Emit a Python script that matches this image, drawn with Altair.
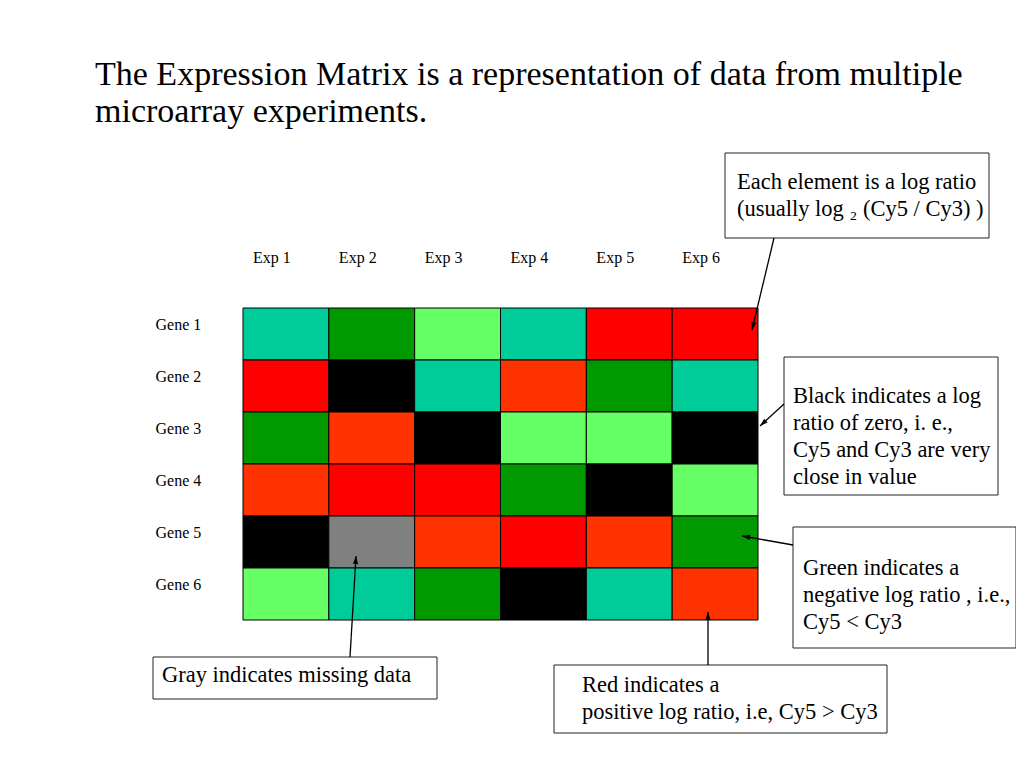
import math
import altair as alt
import pandas as pd

# ---------------- data ----------------
genes = ["Gene 1", "Gene 2", "Gene 3", "Gene 4", "Gene 5", "Gene 6"]
experiments = ["Exp 1", "Exp 2", "Exp 3", "Exp 4", "Exp 5", "Exp 6"]

# colour class of each cell, one row per gene
row_gene1 = ["teal", "dark green", "light green", "teal", "red", "red"]
row_gene2 = ["red", "black", "teal", "orange red", "dark green", "teal"]
row_gene3 = ["dark green", "orange red", "black", "light green", "light green", "black"]
row_gene4 = ["orange red", "red", "red", "dark green", "black", "light green"]
row_gene5 = ["black", "gray", "orange red", "red", "orange red", "dark green"]
row_gene6 = ["light green", "teal", "dark green", "black", "teal", "orange red"]
cell_rows = [row_gene1, row_gene2, row_gene3, row_gene4, row_gene5, row_gene6]

class_names = ["teal", "dark green", "light green", "red", "orange red", "black", "gray"]
class_colors = ["#00CC99", "#009900", "#66FF66", "#FF0000", "#FF3300", "#000000", "#808080"]

title_text = ("The Expression Matrix is a representation of data from multiple\n"
              "microarray experiments.")

note_texts = [
    "Each element is a log ratio\n(usually log \u2082 (Cy5 / Cy3) )",
    "Black indicates a log\nratio of zero, i. e.,\nCy5 and Cy3 are very\nclose in value",
    "Green indicates a\nnegative log ratio , i.e.,\nCy5 < Cy3",
    "Gray indicates missing data",
    "Red indicates a\npositive log ratio, i.e, Cy5 > Cy3",
]

# ---------------- layout (page pixels) ----------------
OX, OY = 243, 308          # top-left of the matrix on the page
PW, PH = 515, 312          # matrix size
TOTAL_W, TOTAL_H = 1008, 752
FONT = "Liberation Serif"

title_pos = (95, 85)
note_text_pos = [(737, 189), (793, 403), (803, 575), (162, 682), (582, 692)]
note_boxes = [(725, 153, 989, 238), (784, 357, 998, 495), (793, 527, 1016, 648),
              (153, 657, 437, 699), (554, 665, 887, 733)]
arrows = [((774, 238), (752, 330)), ((784, 404), (760, 426)), ((793, 545), (742, 536)),
          ((350, 657), (356, 556)), ((708, 665), (708, 612))]

# ---------------- tables ----------------
cells = pd.DataFrame([
    {"gene": g, "exp": e, "cls": cell_rows[i][j]}
    for i, g in enumerate(genes) for j, e in enumerate(experiments)
])

boxes = pd.DataFrame([
    {"x1": a - OX, "y1": b - OY, "x2": c - OX, "y2": d - OY} for (a, b, c, d) in note_boxes
])

notes = pd.DataFrame([
    {"x": p[0] - OX, "y": p[1] - OY, "text": t} for p, t in zip(note_text_pos, note_texts)
])

title_df = pd.DataFrame([{"x": title_pos[0] - OX, "y": title_pos[1] - OY, "text": title_text}])

arrow_rows = []
for (sx, sy), (ex, ey) in arrows:
    ang = math.degrees(math.atan2(ex - sx, -(ey - sy))) % 360
    arrow_rows.append({"x1": sx - OX, "y1": sy - OY, "x2": ex - OX, "y2": ey - OY, "angle": ang})
arrow_df = pd.DataFrame(arrow_rows)

# ---------------- chart ----------------
heat = alt.Chart(cells).mark_rect(stroke="black", strokeWidth=1).encode(
    x=alt.X("exp:N", sort=experiments, title=None,
            scale=alt.Scale(paddingInner=0, paddingOuter=0),
            axis=alt.Axis(orient="top", domain=False, ticks=False, tickSize=0, labelAngle=0,
                          labelPadding=46, labelOffset=-14, labelBaseline="alphabetic",
                          labelFont=FONT, labelFontSize=16, labelColor="black")),
    y=alt.Y("gene:N", sort=genes, title=None,
            scale=alt.Scale(paddingInner=0, paddingOuter=0),
            axis=alt.Axis(domain=False, ticks=False, tickSize=0, labelAlign="left",
                          labelPadding=88, labelOffset=-4, labelBaseline="alphabetic",
                          labelFont=FONT, labelFontSize=16, labelColor="black")),
    color=alt.Color("cls:N", scale=alt.Scale(domain=class_names, range=class_colors), legend=None),
)

box_layer = alt.Chart(boxes).mark_rect(fill="white", stroke="#222222", strokeWidth=1).encode(
    x=alt.X("x1:Q", scale=None, axis=None), x2="x2:Q",
    y=alt.Y("y1:Q", scale=None, axis=None), y2="y2:Q",
)

note_layer = alt.Chart(notes).mark_text(
    align="left", baseline="alphabetic", font=FONT, fontSize=22.5, lineHeight=27,
    lineBreak="\n", color="black"
).encode(
    x=alt.X("x:Q", scale=None, axis=None),
    y=alt.Y("y:Q", scale=None, axis=None),
    text="text:N",
)

title_layer = alt.Chart(title_df).mark_text(
    align="left", baseline="alphabetic", font=FONT, fontSize=34, lineHeight=37,
    lineBreak="\n", color="black"
).encode(
    x=alt.X("x:Q", scale=None, axis=None),
    y=alt.Y("y:Q", scale=None, axis=None),
    text="text:N",
)

arrow_lines = alt.Chart(arrow_df).mark_rule(color="black", strokeWidth=1.3).encode(
    x=alt.X("x1:Q", scale=None, axis=None), x2="x2:Q",
    y=alt.Y("y1:Q", scale=None, axis=None), y2="y2:Q",
)

arrow_heads = alt.Chart(arrow_df).mark_point(
    shape="M0,0L-0.65,2L0.65,2Z", filled=True, color="black", opacity=1, size=64
).encode(
    x=alt.X("x2:Q", scale=None, axis=None),
    y=alt.Y("y2:Q", scale=None, axis=None),
    angle=alt.Angle("angle:Q", scale=None),
)

chart = alt.layer(
    heat, box_layer, note_layer, title_layer, arrow_lines, arrow_heads
).resolve_scale(
    x="independent", y="independent"
).properties(
    width=PW, height=PH,
    autosize=alt.AutoSizeParams(type="none"),
    padding={"left": OX - 8, "top": OY - 8,
             "right": TOTAL_W - (OX - 8) - PW, "bottom": TOTAL_H - (OY - 8) - PH},
    background="white",
).configure_view(stroke=None)

chart.save("out.html", embed_options={"renderer": "svg", "actions": False})
